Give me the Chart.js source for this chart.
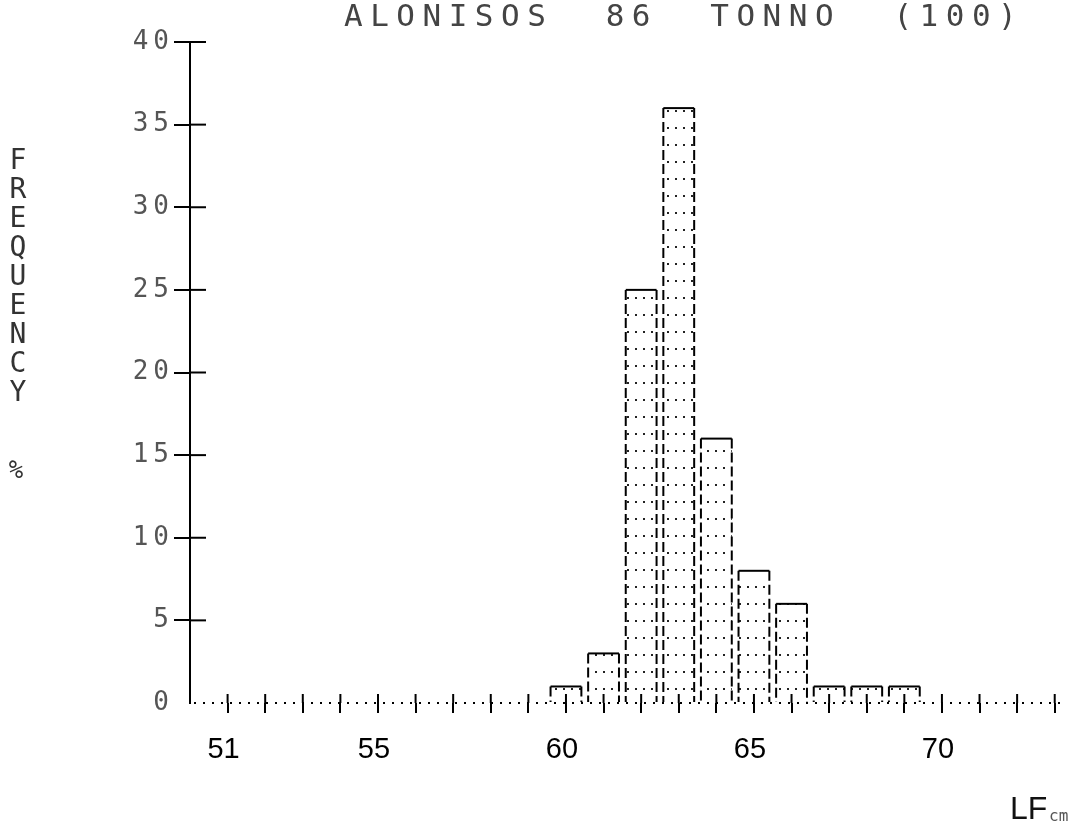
<!DOCTYPE html>
<html><head><meta charset="utf-8">
<script src="https://cdn.jsdelivr.net/npm/chart.js@4.4.1/dist/chart.umd.min.js"></script>
<style>html,body{margin:0;padding:0;background:#fff;} #wrap{width:1086px;height:833px;}</style>
</head><body><div id="wrap"><canvas id="c" width="1086" height="833"></canvas></div>
<script>
// ---- data ----
const lengthClasses = [60, 61, 62, 63, 64, 65, 66, 67, 68, 69];
const frequencies   = [1, 3, 25, 36, 16, 8, 6, 1, 1, 1];
const xLabelValues  = [51, 55, 60, 65, 70];
const xTickMin = 50, xTickMax = 73;
const yTickValues = [0, 5, 10, 15, 20, 25, 30, 35, 40];
const titleText = 'ALONISOS  86  TONNO  (100)';
const yTitleLetters = ['F', 'R', 'E', 'Q', 'U', 'E', 'N', 'C', 'Y'];
const yTitleUnit = '%';
const xTitle = 'LF';
const xUnit = 'cm';

const canvas = document.getElementById('c');
const ctx0 = canvas.getContext('2d');

function makeDotPattern(ctx) {
  const c = document.createElement('canvas');
  c.width = 8; c.height = 17;
  const g = c.getContext('2d');
  g.fillStyle = '#fff'; g.fillRect(0, 0, 8, 17);
  g.fillStyle = '#222'; g.fillRect(3, 8, 2, 2);
  return ctx.createPattern(c, 'repeat');
}

const decor = {
  id: 'decor',
  beforeDraw(chart) {
    const ys = chart.scales.y;
    if (ys && !ys._patched) {
      const orig = ys.drawLabels.bind(ys);
      ys.drawLabels = function (a) {
        const c = chart.ctx; c.save(); c.letterSpacing = '5px'; orig(a); c.restore();
      };
      ys._patched = true;
    }
  },
  beforeDatasetsDraw(chart) {
    const ctx = chart.ctx, ca = chart.chartArea;
    // dotted baseline
    ctx.save();
    ctx.strokeStyle = '#000'; ctx.lineWidth = 2; ctx.setLineDash([2, 7]);
    ctx.beginPath(); ctx.moveTo(ca.left + 4, ca.bottom); ctx.lineTo(ca.right, ca.bottom); ctx.stroke();
    ctx.restore();
  },
  afterDatasetsDraw(chart) {
    const ctx = chart.ctx;
    const meta = chart.getDatasetMeta(0);
    ctx.save();
    ctx.strokeStyle = '#000'; ctx.lineWidth = 2;
    meta.data.forEach(el => {
      const p = el.getProps(['x', 'y', 'base', 'width'], true);
      const l = p.x - p.width / 2, r = p.x + p.width / 2;
      ctx.setLineDash([]);
      ctx.beginPath(); ctx.moveTo(l, p.y); ctx.lineTo(r, p.y); ctx.stroke();
      ctx.setLineDash([10, 4]);
      ctx.beginPath(); ctx.moveTo(l, p.y); ctx.lineTo(l, p.base);
      ctx.moveTo(r, p.y); ctx.lineTo(r, p.base); ctx.stroke();
    });
    ctx.restore();
  },
  afterDraw(chart) {
    const ctx = chart.ctx, ca = chart.chartArea;
    const xs = chart.scales.x, ys = chart.scales.y;
    ctx.save();
    ctx.strokeStyle = '#000'; ctx.lineWidth = 2; ctx.setLineDash([]);
    // y ticks crossing the axis
    yTickValues.forEach(v => {
      if (v === 0) return;
      const py = ys.getPixelForValue(v);
      ctx.beginPath(); ctx.moveTo(ca.left, py); ctx.lineTo(ca.left + 16, py); ctx.stroke();
    });
    // x ticks crossing the baseline
    for (let v = xTickMin + 1; v <= xTickMax; v++) {
      const px = xs.getPixelForValue(v);
      ctx.beginPath(); ctx.moveTo(px, ca.bottom); ctx.lineTo(px, ca.bottom - 9); ctx.stroke();
    }
    // title
    ctx.fillStyle = '#444';
    ctx.font = '31px "DejaVu Sans Mono"';
    ctx.letterSpacing = '7.5px';
    ctx.textAlign = 'left'; ctx.textBaseline = 'middle';
    ctx.fillText(titleText, 344, 18);
    // vertical stacked y title
    ctx.letterSpacing = '0px';
    ctx.font = '28px "DejaVu Sans Mono"';
    ctx.fillStyle = '#333';
    ctx.textAlign = 'center';
    yTitleLetters.forEach((ch, i) => ctx.fillText(ch, 18, 162 + i * 29));
    ctx.font = '24px "DejaVu Sans Mono"';
    ctx.fillText(yTitleUnit, 16, 472);
    // x title
    ctx.textAlign = 'left';
    ctx.fillStyle = '#111';
    ctx.font = '32px "Liberation Sans Narrow", "Liberation Sans"';
    ctx.fillText(xTitle, 1010, 810);
    ctx.fillStyle = '#555';
    ctx.font = '16px "DejaVu Sans Mono"';
    ctx.fillText(xUnit, 1049, 817);
    ctx.restore();
  }
};

new Chart(canvas, {
  type: 'bar',
  data: {
    datasets: [{
      data: lengthClasses.map((x, i) => ({ x: x, y: frequencies[i] })),
      backgroundColor: makeDotPattern(ctx0),
      borderWidth: 0,
      barPercentage: 0.82,
      categoryPercentage: 1.0
    }]
  },
  options: {
    responsive: false,
    animation: false,
    layout: { padding: { top: 42, right: 20, left: 0, bottom: 0 } },
    plugins: { legend: { display: false }, title: { display: false }, tooltip: { enabled: false } },
    scales: {
      x: {
        type: 'linear',
        min: 50, max: 73.3,
        offset: false,
        afterFit: s => { s.height = 130; },
        ticks: {
          stepSize: 1, includeBounds: false, autoSkip: false, maxRotation: 0,
          callback: v => xLabelValues.includes(v) ? String(v) : '',
          font: { family: 'Liberation Sans', size: 29 },
          color: '#000', padding: 20, labelOffset: -4
        },
        grid: {
          offset: false,
          drawOnChartArea: false, drawTicks: true, tickLength: 10, lineWidth: 2,
          color: c => (c.tick && c.tick.value === xTickMin) ? 'rgba(0,0,0,0)' : '#000'
        },
        border: { display: false }
      },
      y: {
        type: 'linear',
        min: 0, max: 40,
        afterFit: s => { s.width = 190; },
        afterBuildTicks: s => { s.ticks = yTickValues.map(v => ({ value: v })); },
        ticks: {
          stepSize: 5,
          font: { family: 'DejaVu Sans Mono', size: 26 },
          color: '#555', padding: 0
        },
        grid: {
          drawOnChartArea: false, drawTicks: true, tickLength: 16, lineWidth: 2,
          color: c => (c.tick && c.tick.value === 0) ? 'rgba(0,0,0,0)' : '#000'
        },
        border: { display: true, color: '#000', width: 2 }
      }
    }
  },
  plugins: [decor]
});
</script>
</body></html>
